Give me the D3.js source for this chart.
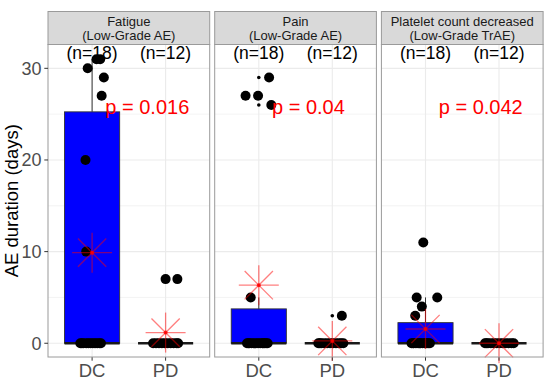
<!DOCTYPE html>
<html>
<head>
<meta charset="utf-8">
<script src="https://cdn.jsdelivr.net/npm/d3@7"></script>
<style>
  html, body { margin: 0; padding: 0; background: #fff; }
  svg { display: block; font-family: "Liberation Sans", Arial, sans-serif; }
</style>
</head>
<body>
<div id="chart"></div>
<script>
// Groups on the x axis of every panel, and the facet strip titles (two lines each).
var categories = ["DC", "PD"];
var panelTitles = [
  ["Fatigue", "(Low-Grade AE)"],
  ["Pain", "(Low-Grade AE)"],
  ["Platelet count decreased", "(Low-Grade TrAE)"]
];
var nLabels = ["(n=18)", "(n=12)"];
var pLabels = ["p = 0.016", "p = 0.04", "p = 0.042"];
var yTicks = [0, 10, 20, 30];
var yMinor = [5, 15, 25];

// AE duration (days) per patient; jitter is the horizontal
// offset of each dot in category units, also.
var fatigueDC = [30, 31, 31, 29, 27, 20, 10, 0, 0, 0, 0, 0, 0, 0, 0, 0, 0, 0];
var fatigueDCJitter = [-0.06, 0.06, 0.11, 0.16, 0.13, -0.09, -0.08, -0.16, -0.12, -0.08, -0.05, -0.02, 0.01, 0.04, 0.07, 0.10, 0.12, -0.14];
var fatiguePD = [7, 7, 0, 0, 0, 0, 0, 0, 0, 0, 0, 0];
var fatiguePDJitter = [0.0, 0.16, -0.17, -0.13, -0.09, -0.05, -0.01, 0.03, 0.07, 0.11, 0.15, 0.17];
var painDC = [29, 27, 27, 26, 5, 0, 0, 0, 0, 0, 0, 0, 0, 0, 0, 0, 0, 0];
var painDCJitter = [0.14, -0.18, -0.01, 0.17, -0.11, -0.16, -0.13, -0.10, -0.07, -0.04, -0.01, 0.02, 0.05, 0.08, 0.10, 0.12, -0.14, 0.06];
var painPD = [3, 0, 0, 0, 0, 0, 0, 0, 0, 0, 0, 0];
var painPDJitter = [0.13, -0.19, -0.15, -0.11, -0.07, -0.03, 0.01, 0.05, 0.09, 0.12, 0.15, -0.17];
var plateletDC = [11, 5, 5, 4, 3, 0, 0, 0, 0, 0, 0, 0, 0, 0, 0, 0, 0, 0];
var plateletDCJitter = [-0.03, -0.12, 0.16, -0.05, -0.14, -0.19, -0.16, -0.13, -0.10, -0.07, -0.04, -0.01, 0.02, 0.04, 0.06, -0.17, -0.08, 0.0];
var plateletPD = [0, 0, 0, 0, 0, 0, 0, 0, 0, 0, 0, 0];
var plateletPDJitter = [-0.19, -0.15, -0.11, -0.07, -0.03, 0.01, 0.05, 0.09, 0.13, 0.17, 0.20, -0.17];

var panels = [
  { groups: [{ v: fatigueDC, j: fatigueDCJitter }, { v: fatiguePD, j: fatiguePDJitter }] },
  { groups: [{ v: painDC, j: painDCJitter }, { v: painPD, j: painPDJitter }] },
  { groups: [{ v: plateletDC, j: plateletDCJitter }, { v: plateletPD, j: plateletPDJitter }] }
];

(function () {
  var W = 550, H = 384;
  var panelLeft = 48, panelW = 161.7, gap = 5;
  var stripTop = 11.5, top = 44.5, bottom = 357;
  var border = "#9a9a9a", gridCol = "#ebebeb", axisText = "#4d4d4d";

  var svg = d3.select("#chart").append("svg").attr("width", W).attr("height", H);

  var y = d3.scaleLinear().domain([-1.5, 32.6]).range([bottom, top]);

  function boxStats(vals) {
    var s = vals.slice().sort(d3.ascending);
    var q1 = d3.quantile(s, 0.25), med = d3.quantile(s, 0.5), q3 = d3.quantile(s, 0.75);
    var iqr = q3 - q1;
    var inside = s.filter(function (v) { return v >= q1 - 1.5 * iqr && v <= q3 + 1.5 * iqr; });
    return {
      q1: q1, med: med, q3: q3,
      lo: d3.min(inside), hi: d3.max(inside),
      out: s.filter(function (v) { return v < q1 - 1.5 * iqr || v > q3 + 1.5 * iqr; }),
      mean: d3.mean(s)
    };
  }

  panels.forEach(function (p, pi) {
    var x0 = panelLeft + pi * (panelW + gap);
    // discrete axis with ggplot's 0.6 expansion on both sides
    var x = d3.scaleLinear().domain([0.4, 2.6]).range([x0, x0 + panelW]);
    var unit = x(1) - x(0);
    var g = svg.append("g");

    // grid
    g.selectAll(".minor").data(yMinor).enter().append("line")
      .attr("x1", x0).attr("x2", x0 + panelW)
      .attr("y1", function (d) { return y(d); }).attr("y2", function (d) { return y(d); })
      .attr("stroke", gridCol).attr("stroke-width", 0.6);
    g.selectAll(".major").data(yTicks).enter().append("line")
      .attr("x1", x0).attr("x2", x0 + panelW)
      .attr("y1", function (d) { return y(d); }).attr("y2", function (d) { return y(d); })
      .attr("stroke", gridCol).attr("stroke-width", 1.1);
    g.selectAll(".vgrid").data(categories).enter().append("line")
      .attr("x1", function (d, i) { return x(i + 1); }).attr("x2", function (d, i) { return x(i + 1); })
      .attr("y1", top).attr("y2", bottom)
      .attr("stroke", gridCol).attr("stroke-width", 1.1);

    var boxW = 0.75 * unit;
    p.groups.forEach(function (grp, gi) {
      var cx = x(gi + 1);
      var st = boxStats(grp.v);
      // whiskers
      g.append("line").attr("x1", cx).attr("x2", cx).attr("y1", y(st.q3)).attr("y2", y(st.hi))
        .attr("stroke", "#333").attr("stroke-width", 1);
      g.append("line").attr("x1", cx).attr("x2", cx).attr("y1", y(st.q1)).attr("y2", y(st.lo))
        .attr("stroke", "#333").attr("stroke-width", 1);
      g.append("rect").attr("x", cx - boxW / 2).attr("width", boxW)
        .attr("y", y(st.q3)).attr("height", Math.max(0, y(st.q1) - y(st.q3)))
        .attr("fill", "#0000ff").attr("stroke", "#333").attr("stroke-width", 0.9);
      g.append("line").attr("x1", cx - boxW / 2).attr("x2", cx + boxW / 2)
        .attr("y1", y(st.med)).attr("y2", y(st.med))
        .attr("stroke", "#1a1a1a").attr("stroke-width", 2.4);
      // boxplot outliers (small dots at the group centre)
      g.selectAll(".out" + gi).data(st.out).enter().append("circle")
        .attr("cx", cx).attr("cy", function (d) { return y(d); }).attr("r", 1.8).attr("fill", "#000");
      // jittered points
      g.selectAll(".pt" + gi).data(grp.v).enter().append("circle")
        .attr("cx", function (d, i) { return x(gi + 1 + grp.j[i]); })
        .attr("cy", function (d) { return y(d); })
        .attr("r", 5).attr("fill", "#000");
      // mean as an asterisk
      var my = y(st.mean), r = 20, dg = r * Math.SQRT1_2;
      var star = g.append("g").attr("stroke", "#ff0000").attr("stroke-opacity", 0.5).attr("stroke-width", 1.3);
      [[-r, 0, r, 0], [0, -r, 0, r], [-dg, -dg, dg, dg], [-dg, dg, dg, -dg]].forEach(function (a) {
        star.append("line").attr("x1", cx + a[0]).attr("y1", my + a[1]).attr("x2", cx + a[2]).attr("y2", my + a[3]);
      });
      g.append("circle").attr("cx", cx).attr("cy", my).attr("r", 2).attr("fill", "#ff0000").attr("fill-opacity", 0.8);

      // x tick and label
      g.append("line").attr("x1", cx).attr("x2", cx).attr("y1", bottom).attr("y2", bottom + 3.7)
        .attr("stroke", "#333").attr("stroke-width", 1);
      g.append("text").attr("x", cx).attr("y", 376.5).attr("text-anchor", "middle")
        .attr("font-size", "18.5px").attr("fill", axisText).text(categories[gi]);
      // n labels
      g.append("text").attr("x", cx).attr("y", 59).attr("text-anchor", "middle")
        .attr("font-size", "17.5px").attr("fill", "#000").text(nLabels[gi]);
    });

    // p value
    g.append("text").attr("x", x(1.18)).attr("y", y(25)).attr("font-size", "20px")
      .attr("fill", "#ff0000").text(pLabels[pi]);

    // panel border
    g.append("rect").attr("x", x0).attr("y", top).attr("width", panelW).attr("height", bottom - top)
      .attr("fill", "none").attr("stroke", border).attr("stroke-width", 1);
    // strip
    g.append("rect").attr("x", x0).attr("y", stripTop).attr("width", panelW).attr("height", top - stripTop)
      .attr("fill", "#d9d9d9").attr("stroke", border).attr("stroke-width", 1);
    panelTitles[pi].forEach(function (t, li) {
      g.append("text").attr("x", x0 + panelW / 2).attr("y", 25.5 + li * 14)
        .attr("text-anchor", "middle").attr("font-size", "13px").attr("fill", "#1a1a1a").text(t);
    });
  });

  // y axis on the first panel
  var ya = svg.append("g");
  ya.selectAll("line").data(yTicks).enter().append("line")
    .attr("x1", panelLeft - 3.7).attr("x2", panelLeft)
    .attr("y1", function (d) { return y(d); }).attr("y2", function (d) { return y(d); })
    .attr("stroke", "#333").attr("stroke-width", 1);
  ya.selectAll("text").data(yTicks).enter().append("text")
    .attr("x", panelLeft - 6.5).attr("y", function (d) { return y(d); }).attr("dy", "0.36em")
    .attr("text-anchor", "end").attr("font-size", "18px").attr("fill", axisText)
    .text(function (d) { return d; });
  svg.append("text").attr("transform", "translate(17.5," + ((top + bottom) / 2) + ") rotate(-90)")
    .attr("text-anchor", "middle").attr("font-size", "18.5px").attr("fill", "#000")
    .text("AE duration (days)");
})();
</script>
</body>
</html>
